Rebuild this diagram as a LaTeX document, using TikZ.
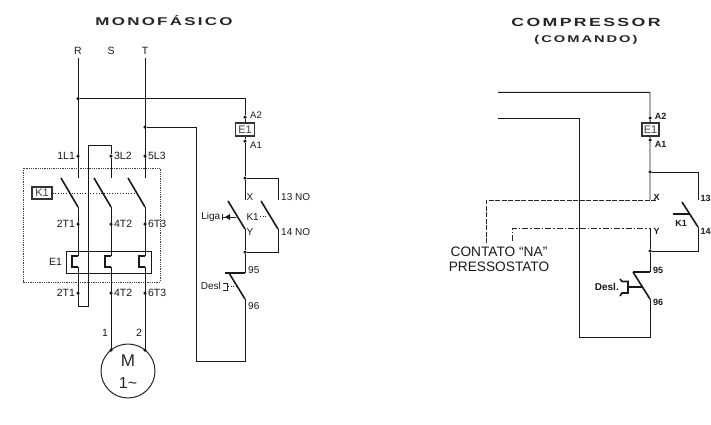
\documentclass[tikz,border=0pt]{standalone}
\usepackage{fontspec}
\usepackage{tikz}
\usetikzlibrary{positioning}
\setmainfont{Liberation Sans}
\newfontfamily\titlefont[FakeStretch=1.5,LetterSpace=20]{Liberation Sans}
\tikzset{
    wire/.style = {draw=black!90, line width=0.95pt},
    thin-wire/.style = {draw=black!85, line width=0.8pt},
    heavy-wire/.style = {draw=black!90, line width=1.6pt},
    link-dots/.style = {draw=black!85, line width=0.7pt, dotted},
    panel-dots/.style = {draw=black!75, line width=0.8pt, densely dotted},
    na-dash/.style = {draw=black!85, line width=0.9pt, dash pattern=on 5pt off 1.5pt},
    na-dashdot/.style = {draw=black!85, line width=0.9pt, dash pattern=on 6pt off 2pt on 1.5pt off 2pt},
    term-dot/.style = {circle, fill=black!90, inner sep=0pt, minimum size=3.5pt},
    tag-box/.style = {draw=black!80, fill=white, line width=1.2pt, inner sep=0pt, font=\fontsize{11}{11}\selectfont, text=black!75},
    term-text/.style = {inner sep=0pt, font=\fontsize{10.5}{11}\selectfont, text=black!90},
    ctrl-text/.style = {inner sep=0pt, font=\fontsize{10}{11}\selectfont, text=black!90},
    bold-text/.style = {inner sep=0pt, font=\fontsize{9}{10}\bfseries\selectfont, text=black!90},
    title-text/.style = {inner sep=0pt, text=black!85},
}

\begin{document}
\begin{tikzpicture}[x=1pt, y=-1pt]
\useasboundingbox (0,0) rectangle (711,424);

% titulos
\node[title-text, font=\titlefont\bfseries\fontsize{11.3}{12}\selectfont] (title-mono) at (164,21) {MONOFÁSICO};
\node[title-text, font=\titlefont\bfseries\fontsize{11.8}{12}\selectfont] (title-comp) at (586,22) {COMPRESSOR};
\node[title-text, font=\titlefont\bfseries\fontsize{9.8}{10}\selectfont] (title-com) at (586,40) {(COMANDO)};

% potencia
\node[term-text] (lbl-r) at (78,51) {R};
\node[term-text] (lbl-s) at (111,51) {S};
\node[term-text] (lbl-t) at (145,51) {T};
\coordinate (r-top) at (78,58);
\coordinate (t-top) at (145,58);
\node[term-dot] (r-tap) at (78,98.5) {};
\node[term-dot] (t-tap) at (145,127) {};
\node[term-dot] (r-l1) at (78,156) {};
\node[term-dot] (s-l2) at (111,156) {};
\node[term-dot] (t-l3) at (145,156) {};
\node[term-text, left=1pt of r-l1] (lbl-1l1) {1L1};
\node[term-text, right=1pt of s-l2] (lbl-3l2) {3L2};
\node[term-text, right=1pt of t-l3] (lbl-5l3) {5L3};
\draw[wire] (r-top) -- (78,178);
\draw[wire] (s-l2) -- (111,178);
\draw[wire] (t-top) -- (145,178);

% contatos K1 e rele
\draw[panel-dots] (23,168) rectangle (160,282);
\node[tag-box, minimum width=20pt, minimum height=12pt] (k1-tag) at (42,193) {K1};
\coordinate (k1-link) at (134,193);
\draw[link-dots] (k1-tag) -- (k1-link);
\draw[wire] (66,251) rectangle (151.5,273);
\foreach \px/\name/\bot in {78/r/306, 111/s/350, 145/t/350} {
    \draw[heavy-wire] (\px-17,178) -- (\px,207);
    \draw[wire] (\px,207) -- (\px,256);
    \draw[wire] (\px,267) -- (\px,\bot);
    \draw[heavy-wire] (\px,256) -- (\px-6,256) -- (\px-6,267) -- (\px,267);
    \node[term-dot] (\name-t1) at (\px,224) {};
    \node[term-dot] (\name-t2) at (\px,293) {};
}
\node[term-text, left=1pt of r-t1] (lbl-2t1) {2T1};
\node[term-text, right=1pt of s-t1] (lbl-4t2) {4T2};
\node[term-text, right=1pt of t-t1] (lbl-6t3) {6T3};
\node[term-text, left=1pt of r-t2] (lbl-2t1b) {2T1};
\node[term-text, right=1pt of s-t2] (lbl-4t2b) {4T2};
\node[term-text, right=1pt of t-t2] (lbl-6t3b) {6T3};
\node[term-text] (lbl-e1) at (55.5,262) {E1};
\draw[wire] (78,306) -- (88,306) -- (88,145) -- (111,145) -- (s-l2);

% motor
\node[draw=black!85, line width=1pt, circle, minimum size=54pt, inner sep=0pt] (motor) at (128,371) {};
\node[inner sep=0pt, font=\fontsize{17}{18}\selectfont, text=black!85] (motor-m) at (128,361) {M};
\node[inner sep=0pt, font=\fontsize{16}{16}\selectfont, text=black!85] (motor-ph) at (128,383) {1\char"7E};
\node[term-dot] (motor-a) at (111,350) {};
\node[term-dot] (motor-b) at (145,350) {};
\node[term-text] (lbl-1) at (105,333) {1};
\node[term-text] (lbl-2) at (139,333) {2};

% comando monofasico
\node[tag-box, minimum width=19pt, minimum height=13pt] (e1-coil) at (245,129.5) {E1};
\node[term-dot] (a2-dot) at (245,117) {};
\node[term-dot] (a1-dot) at (245,141) {};
\node[term-dot] (x-tap) at (245,178) {};
\node[term-dot] (y-tap) at (245,252) {};
\draw[wire] (r-tap) -- (245,98.5) -- (a2-dot) -- (e1-coil);
\draw[wire] (e1-coil) -- (a1-dot) -- (x-tap) -- (245,200);
\draw[wire] (x-tap) -- (278,178) -- (278,200);
\draw[heavy-wire] (228,201) -- (245,229);
\draw[heavy-wire] (261,201) -- (278,229);
\draw[wire] (245,229) -- (y-tap) -- (245,273);
\draw[wire] (278,229) -- (278,252) -- (y-tap);
\draw[heavy-wire] (225,273) -- (245,273);
\draw[heavy-wire] (229,273) -- (245,299);
\draw[wire] (245,299) -- (245,361) -- (196,361) -- (196,127) -- (t-tap);
\node[bold-text, font=\fontsize{9.5}{10}\selectfont] (lbl-a2) at (256,115) {A2};
\node[bold-text, font=\fontsize{9.5}{10}\selectfont] (lbl-a1) at (256,145) {A1};
\node[ctrl-text, anchor=west] (lbl-x) at (246.5,197) {X};
\node[ctrl-text, anchor=west] (lbl-13) at (281,197) {13 NO};
\node[ctrl-text, anchor=west] (lbl-y) at (246.5,232) {Y};
\node[ctrl-text, anchor=west] (lbl-14) at (281,232) {14 NO};
\node[ctrl-text, anchor=east] (lbl-liga) at (220.5,217) {Liga};
\node[ctrl-text, anchor=east] (lbl-k1) at (259,217) {K1};
\node[ctrl-text, anchor=west] (lbl-95) at (248,270) {95};
\node[ctrl-text, anchor=west] (lbl-96) at (248,306) {96};
\node[ctrl-text, anchor=east] (lbl-desl) at (221,286) {Desl};
\draw[thin-wire] (222.5,214) -- (222.5,220);
\draw[thin-wire] (222.5,217) -- (236,217);
\fill[black!90] (225,217) -- (230,214) -- (230,220) -- cycle;
\draw[link-dots] (260,216) -- (268,216);
\draw[thin-wire] (223,283) -- (227,283) -- (227,290) -- (223,290);
\draw[link-dots] (228,286) -- (237,286);

% compressor
\coordinate (top-in) at (498,92.4);
\coordinate (ret-in) at (498,118);
\node[tag-box, minimum width=17pt, minimum height=13pt] (e1-comp) at (650.5,129.5) {E1};
\node[term-dot] (a2-comp) at (650,118) {};
\node[term-dot] (a1-comp) at (650,140) {};
\node[term-dot] (x-comp) at (650,172) {};
\node[term-dot] (y-comp) at (650,251) {};
\draw[wire] (top-in) -- (650,92.4) -- (a2-comp) -- (e1-comp);
\draw[wire] (e1-comp) -- (a1-comp) -- (x-comp) -- (650,200);
\draw[wire] (x-comp) -- (698,172) -- (698,200);
\draw[heavy-wire] (682,202) -- (698,227);
\draw[heavy-wire] (673,214) -- (689,214);
\draw[wire] (698,227) -- (698,251) -- (y-comp);
\draw[wire] (650,228) -- (y-comp) -- (650,272);
\draw[heavy-wire] (633,272) -- (650,272);
\draw[heavy-wire] (633,272) -- (650,299);
\draw[wire] (650,299) -- (650,337) -- (579,337) -- (579,118) -- (ret-in);
\draw[heavy-wire] (628,287) -- (642,287);
\draw[heavy-wire] (620,279) -- (622,281.5) -- (628,281.5) -- (628,293) -- (622,293) -- (620,296);

% contato do pressostato
\coordinate (na-x) at (486,243);
\coordinate (na-y) at (512,241);
\draw[na-dash] (na-x) -- (486,200) -- (656,200);
\draw[na-dashdot] (na-y) -- (512,228) -- (650,228);
\node[term-text, font=\fontsize{13.7}{15}\selectfont, align=center] (lbl-na) at (499,259.5) {CONTATO “NA”\\PRESSOSTATO};
\node[bold-text] (lbl-a2c) at (660.5,116) {A2};
\node[bold-text] (lbl-a1c) at (660.5,144) {A1};
\node[bold-text, anchor=west] (lbl-xc) at (653.5,197.5) {X};
\node[bold-text, anchor=west] (lbl-yc) at (653.5,231.5) {Y};
\node[bold-text, anchor=west] (lbl-13c) at (700.5,198) {13};
\node[bold-text, anchor=west] (lbl-14c) at (700.5,231.5) {14};
\node[bold-text] (lbl-k1c) at (681,223.5) {K1};
\node[bold-text, anchor=west] (lbl-95c) at (653,270.5) {95};
\node[bold-text, anchor=west] (lbl-96c) at (653,302.5) {96};
\node[bold-text, font=\fontsize{10}{10}\bfseries\selectfont, anchor=east] (lbl-deslc) at (619,287) {Desl.};
\end{tikzpicture}
\end{document}
